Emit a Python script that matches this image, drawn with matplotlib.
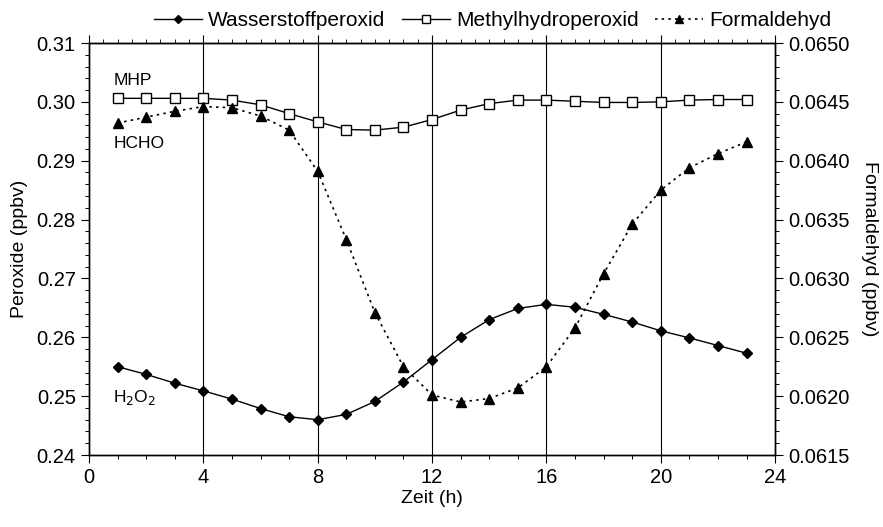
import matplotlib.pyplot as plt
from matplotlib.ticker import MultipleLocator, FormatStrFormatter

plt.rcParams['font.family'] = ['Liberation Sans', 'DejaVu Sans']

hours = list(range(1, 24))

h2o2 = [0.2550, 0.2537, 0.2522, 0.2509, 0.2495, 0.2479, 0.2465, 0.2460, 0.2469,
        0.2491, 0.2524, 0.2562, 0.2600, 0.2630, 0.2649, 0.2656, 0.2651, 0.2639,
        0.2626, 0.2611, 0.2599, 0.2586, 0.2573]

mhp = [0.3006, 0.3006, 0.3006, 0.3006, 0.3003, 0.2995, 0.2980, 0.2966, 0.2953,
       0.2952, 0.2957, 0.2970, 0.2986, 0.2997, 0.3003, 0.3003, 0.3001, 0.2999,
       0.2999, 0.3000, 0.3003, 0.3004, 0.3004]

hcho = [0.06432, 0.06437, 0.06442, 0.06446, 0.06445, 0.06438, 0.06426, 0.06391,
        0.06333, 0.06271, 0.06225, 0.06201, 0.06195, 0.06198, 0.06207, 0.06225,
        0.06258, 0.06304, 0.06346, 0.06375, 0.06394, 0.06406, 0.06416]

fig = plt.figure(figsize=(8.83, 5.27), dpi=100)
ax = fig.add_axes([0.1008, 0.1366, 0.777, 0.7818])
ax2 = ax.twinx()

l1, = ax.plot(hours, h2o2, color='black', lw=1.0, marker='D', ms=5.5,
              label='Wasserstoffperoxid')
l2, = ax.plot(hours, mhp, color='black', lw=1.0, marker='s', ms=6.5,
              mfc='white', mew=1.0, label='Methylhydroperoxid')
l3, = ax2.plot(hours, hcho, color='black', lw=1.2, ls=(0, (1.5, 2.5)),
               marker='^', ms=7.5, label='Formaldehyd')

for x in [4, 8, 12, 16, 20]:
    ax.axvline(x, color='black', lw=0.8, zorder=0)

ax.set_xlim(0, 24)
ax.set_ylim(0.24, 0.31)
ax2.set_ylim(0.0615, 0.0650)

ax.xaxis.set_major_locator(MultipleLocator(4))
ax.xaxis.set_minor_locator(MultipleLocator(1))
ax.yaxis.set_major_locator(MultipleLocator(0.01))
ax.yaxis.set_minor_locator(MultipleLocator(0.002))
ax.yaxis.set_major_formatter(FormatStrFormatter('%.2f'))
ax2.yaxis.set_major_locator(MultipleLocator(0.0005))
ax2.yaxis.set_minor_locator(MultipleLocator(0.0001))
ax2.yaxis.set_major_formatter(FormatStrFormatter('%.4f'))

ax.tick_params(axis='both', which='major', labelsize=14.5, length=6, width=0.8,
               direction='out')
ax.tick_params(axis='both', which='minor', length=3, width=0.7,
               direction='out')
ax2.tick_params(axis='y', which='major', labelsize=14.5, length=6, width=0.8)
ax2.tick_params(axis='y', which='minor', length=3, width=0.7)

secx = ax.secondary_xaxis('top')
secx.xaxis.set_major_locator(MultipleLocator(4))
secx.xaxis.set_minor_locator(MultipleLocator(0.5))
secx.tick_params(which='major', length=6, labeltop=False)
secx.tick_params(which='minor', length=3)

ax.set_xlabel('Zeit (h)', fontsize=14, labelpad=2)
ax.set_ylabel('Peroxide (ppbv)', fontsize=14, labelpad=6)
ax2.set_ylabel('Formaldehyd (ppbv)', fontsize=14, rotation=270, labelpad=20)

ax.text(0.85, 0.3028, 'MHP', fontsize=12.5)
ax.text(0.85, 0.2922, 'HCHO', fontsize=12.5)
ax.text(0.85, 0.2490, 'H$_2$O$_2$', fontsize=12.5)

fig.legend(handles=[l1, l2, l3], loc='upper center', bbox_to_anchor=(0.558, 1.015),
           ncol=3, frameon=False, fontsize=15, handlelength=2.3,
           columnspacing=0.8, handletextpad=0.3, markerscale=0.8)

for a in (ax, ax2):
    for s in a.spines.values():
        s.set_linewidth(1.0)

fig.savefig('out.png', dpi=100)
